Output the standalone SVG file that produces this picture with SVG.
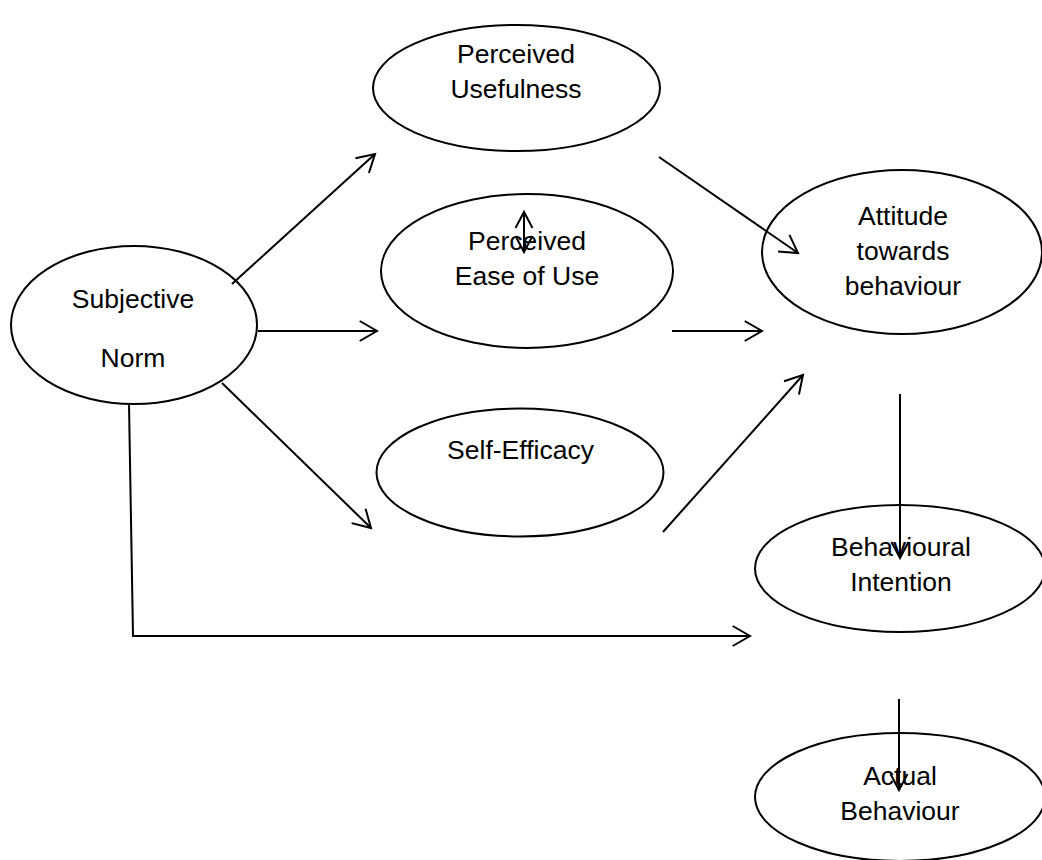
<svg xmlns="http://www.w3.org/2000/svg" width="1042" height="860" viewBox="0 0 1042 860">
  <style>
    .node ellipse { fill: #ffffff; stroke: #000000; stroke-width: 2; }
    .node text { font-family: "Liberation Sans", Arial, sans-serif; font-size: 26.5px; fill: #000000; text-anchor: middle; }
    .edge { fill: none; stroke: #000000; stroke-width: 2; }
    .arrow { marker-end: url(#open); }
    .arrow-s { marker-end: url(#open-s); }
  </style>
  <defs>
    <marker id="open" markerUnits="userSpaceOnUse" markerWidth="40" markerHeight="40" refX="0" refY="0" orient="auto" overflow="visible">
      <path d="M-17.3,-10 L0,0 L-17.3,10" fill="none" stroke="#000000" stroke-width="2"/>
    </marker>
    <marker id="open-s" markerUnits="userSpaceOnUse" markerWidth="40" markerHeight="40" refX="0" refY="0" orient="auto-start-reverse" overflow="visible">
      <path d="M-16,-8.5 L0,0 L-16,8.5" fill="none" stroke="#000000" stroke-width="2"/>
    </marker>
  </defs>
  <rect x="0" y="0" width="1042" height="860" fill="#ffffff"/>

  <g id="perceived-usefulness" class="node">
    <ellipse cx="516.5" cy="88" rx="143.5" ry="63"/>
    <text x="516" y="63">Perceived</text>
    <text x="516" y="98">Usefulness</text>
  </g>

  <g id="perceived-ease-of-use" class="node">
    <ellipse cx="527" cy="271" rx="146" ry="77"/>
    <text x="527" y="250">Perceived</text>
    <text x="527" y="285">Ease of Use</text>
  </g>

  <g id="self-efficacy" class="node">
    <ellipse cx="520" cy="472.5" rx="143.5" ry="64"/>
    <text x="520.5" y="459">Self-Efficacy</text>
  </g>

  <g id="subjective-norm" class="node">
    <ellipse cx="134" cy="325" rx="123" ry="79"/>
    <text x="133" y="308">Subjective</text>
    <text x="133" y="367">Norm</text>
  </g>

  <g id="attitude" class="node">
    <ellipse cx="902" cy="252" rx="140" ry="82"/>
    <text x="903" y="225">Attitude</text>
    <text x="903" y="260">towards</text>
    <text x="903" y="295">behaviour</text>
  </g>

  <g id="behavioural-intention" class="node">
    <ellipse cx="900" cy="568.5" rx="145" ry="63.5"/>
    <text x="901" y="556">Behavioural</text>
    <text x="901" y="591">Intention</text>
  </g>

  <g id="actual-behaviour" class="node">
    <ellipse cx="900" cy="797" rx="145" ry="64"/>
    <text x="900" y="785">Actual</text>
    <text x="900" y="820">Behaviour</text>
  </g>

  <g id="connectors">
    <line class="edge arrow" x1="232" y1="284" x2="375" y2="154"/>
    <line class="edge arrow" x1="258" y1="331" x2="377" y2="331"/>
    <line class="edge arrow" x1="222" y1="383" x2="371" y2="528"/>
    <polyline class="edge arrow" points="129,404 133,636 750,636"/>
    <line class="edge arrow" x1="659" y1="157" x2="798" y2="253"/>
    <line class="edge arrow" x1="672" y1="331" x2="762" y2="331"/>
    <line class="edge arrow" x1="663" y1="532" x2="803" y2="375"/>
    <line class="edge arrow-s" x1="900" y1="394" x2="900" y2="558"/>
    <line class="edge arrow-s" x1="899" y1="699" x2="899" y2="790"/>
    <line class="edge" x1="524" y1="212" x2="524" y2="252" marker-start="url(#open-s)" marker-end="url(#open-s)"/>
  </g>
</svg>
